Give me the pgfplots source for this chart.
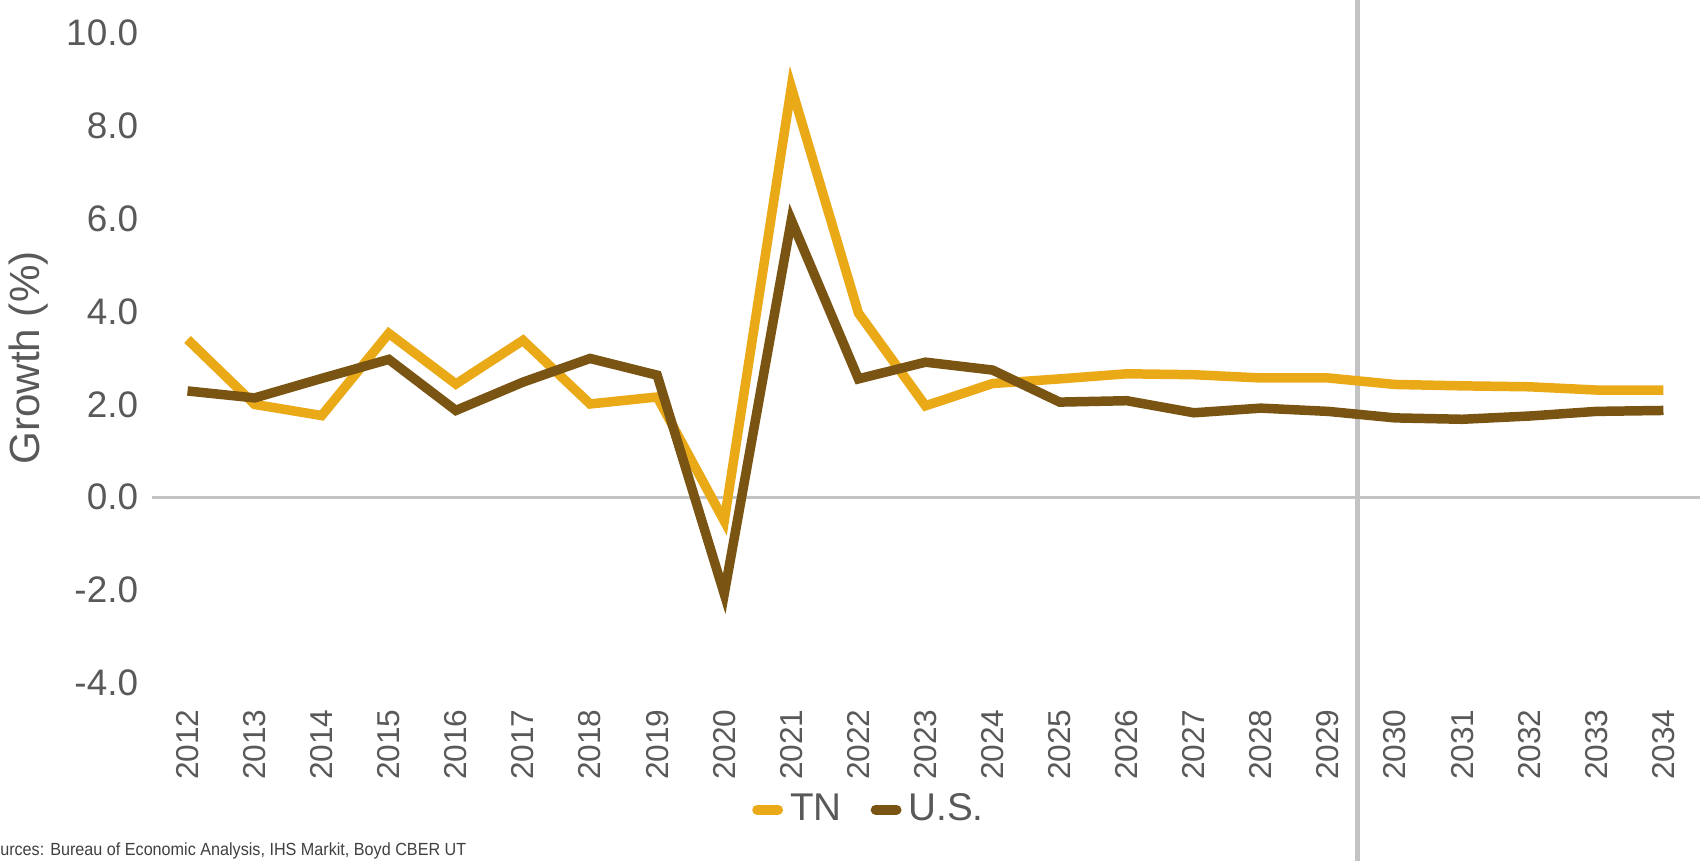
\documentclass[border=0pt]{standalone}
\usepackage{pgfplots}
\pgfplotsset{compat=1.18}
\usepackage{fontspec}
\setmainfont{Liberation Sans}
\newfontfamily\narrowfont[FakeStretch=0.92]{Liberation Sans}

\definecolor{tngold}{RGB}{234,170,24}
\definecolor{usbrown}{RGB}{122,84,18}
\definecolor{labelgray}{RGB}{89,89,89}
\definecolor{rulegray}{RGB}{195,195,195}

\begin{document}
\begin{tikzpicture}
\begin{axis}[
    at={(1.54cm,1.77cm)}, anchor=south west,
    scale only axis, width=15.43cm, height=6.5cm,
    xmin=2011.5, xmax=2034.5, ymin=-4, ymax=10,
    clip=false,
    axis line style={draw=none}, tick style={draw=none},
    /pgf/number format/assume math mode=true,
    xtick={2012,2013,...,2034},
    xticklabel shift=4pt,
    xticklabel style={/pgf/number format/1000 sep=, rotate=90, anchor=east,
        font=\fontsize{9}{10}\selectfont, text=labelgray},
    ytick={-4,-2,0,2,4,6,8,10},
    yticklabels={-4.0,-2.0,0.0,2.0,4.0,6.0,8.0,10.0},
    yticklabel style={font=\fontsize{10.5}{12}\selectfont, text=labelgray, xshift=-1pt},
    ylabel={Growth (\%)},
    ylabel style={at={(axis description cs:-0.081,0.5)}, anchor=center,
        font=\fontsize{12}{14}\selectfont, text=labelgray},
    legend columns=2,
    legend style={draw=none, fill=none, at={(axis description cs:0.465,-0.195)}, anchor=center,
        font=\fontsize{11}{13}\selectfont, text=labelgray,
        /tikz/every even column/.append style={column sep=2.2mm}},
    legend image code/.code={\draw[#1, line width=2.8pt, line cap=round] (0cm,0cm) -- (0.21cm,0cm);},
]
% zero line and forecast divider
\draw[rulegray, line width=1pt] (axis cs:2011.47,0) -- (axis cs:2034.7,0);
\draw[rulegray, line width=1.4pt] (axis cs:2029.44,10.9) -- (axis cs:2029.44,-8);

\addplot[tngold, line width=2.7pt] coordinates {
    (2012,3.40) (2013,2.00) (2014,1.76) (2015,3.53) (2016,2.44) (2017,3.38)
    (2018,2.01) (2019,2.16) (2020,-0.51) (2021,8.83) (2022,3.97) (2023,1.97)
    (2024,2.45) (2025,2.55) (2026,2.66) (2027,2.64) (2028,2.57) (2029,2.57)
    (2030,2.43) (2031,2.40) (2032,2.38) (2033,2.31) (2034,2.31)
};
\addlegendentry{TN}
\addplot[usbrown, line width=2.7pt] coordinates {
    (2012,2.29) (2013,2.14) (2014,2.56) (2015,2.97) (2016,1.87) (2017,2.48)
    (2018,2.99) (2019,2.63) (2020,-2.08) (2021,5.97) (2022,2.55) (2023,2.91)
    (2024,2.74) (2025,2.05) (2026,2.08) (2027,1.82) (2028,1.92) (2029,1.85)
    (2030,1.71) (2031,1.68) (2032,1.75) (2033,1.85) (2034,1.87)
};
\addlegendentry{U.S.}
\end{axis}
\node[anchor=base east, inner sep=0pt, font=\narrowfont\fontsize{5}{6}\selectfont, text=black!75]
    at (4.67cm,0.05cm) {Sources: Bureau of Economic Analysis, IHS Markit, Boyd CBER UT};
\pgfresetboundingbox
\path[use as bounding box] (0,0) rectangle (17cm,8.6cm);
\end{tikzpicture}
\end{document}
